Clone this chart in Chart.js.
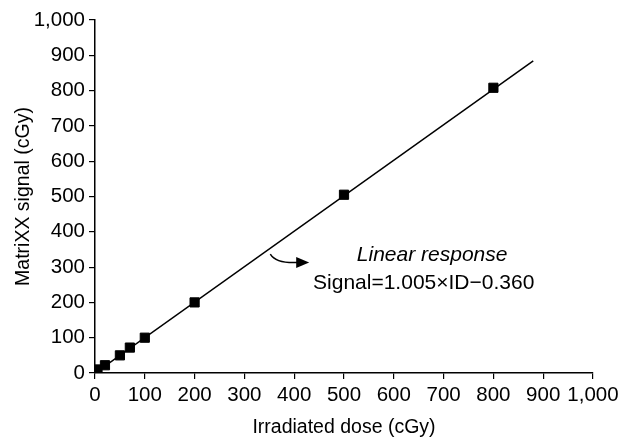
<!DOCTYPE html>
<html>
<head>
<meta charset="utf-8">
<script src="https://cdn.jsdelivr.net/npm/chart.js@4"></script>
<style>
  html, body { margin: 0; padding: 0; background: #fff; }
  #wrap { width: 632px; height: 439px; }
</style>
</head>
<body>
<div id="wrap"><canvas id="myChart"></canvas></div>
<script>
// measured points
const doseX = [5, 20, 50, 70, 100, 200, 500, 800];
const signalY = [10, 22, 50, 72, 100, 200, 505, 808];
// fitted line ends (Signal = 1.005 x ID - 0.360)
const fitX = [0, 880];
const fitY = [-0.36, 884];
const tickValues = [0, 100, 200, 300, 400, 500, 600, 700, 800, 900, 1000];

const font = 'Liberation Sans, Arial, sans-serif';

// text + curved arrow in data coordinates
const notePlugin = {
  id: 'note',
  afterDatasetsDraw(chart) {
    const c = chart.ctx, x = chart.scales.x, y = chart.scales.y;
    c.save();
    c.fillStyle = '#000';
    c.textAlign = 'center';
    c.textBaseline = 'middle';
    c.font = 'italic 21px ' + font;
    c.fillText('Linear response', x.getPixelForValue(677), y.getPixelForValue(334));
    c.font = '21px ' + font;
    c.fillText('Signal=1.005\u00d7ID\u22120.360', x.getPixelForValue(660), y.getPixelForValue(255));

    const sx = x.getPixelForValue(352), sy = y.getPixelForValue(337);
    const ex = x.getPixelForValue(406), ey = y.getPixelForValue(313);
    c.strokeStyle = '#000';
    c.lineWidth = 1.5;
    c.beginPath();
    c.moveTo(sx, sy);
    c.quadraticCurveTo(sx + 6, ey + 1, ex, ey);
    c.stroke();
    c.beginPath();
    c.moveTo(ex - 1, ey - 5.5);
    c.lineTo(ex + 12, ey);
    c.lineTo(ex - 1, ey + 5.5);
    c.closePath();
    c.fill();
    c.restore();
  }
};

const ctx = document.getElementById('myChart');

new Chart(ctx, {
  type: 'scatter',
  data: {
    datasets: [
      {
        label: 'fit',
        type: 'line',
        data: fitX.map((v, i) => ({ x: v, y: fitY[i] })),
        borderColor: '#000',
        borderWidth: 1.5,
        pointRadius: 0,
        fill: false,
        order: 2
      },
      {
        label: 'measured',
        data: doseX.map((v, i) => ({ x: v, y: signalY[i] })),
        pointStyle: 'rect',
        pointRadius: 6.5,
        backgroundColor: '#000',
        borderColor: '#000',
        order: 1
      }
    ]
  },
  options: {
    responsive: true,
    maintainAspectRatio: false,
    animation: false,
    layout: { padding: { top: 20, right: 39, left: 0, bottom: 0 } },
    plugins: {
      legend: { display: false },
      tooltip: { enabled: false }
    },
    scales: {
      x: {
        type: 'linear',
        min: 0,
        max: 1000,
        afterBuildTicks: s => { s.ticks = tickValues.map(v => ({ value: v })); },
        afterFit: s => { s.height = 66; },
        grid: { drawOnChartArea: false, drawTicks: true, tickLength: 6, color: '#000', lineWidth: 1.2 },
        border: { display: true, color: '#000', width: 1.5 },
        ticks: {
          color: '#000',
          font: { family: font, size: 20.5 },
          padding: 4,
          autoSkip: false,
          maxRotation: 0,
          callback: v => v.toLocaleString('en-US')
        },
        title: {
          display: true,
          text: 'Irradiated dose (cGy)',
          color: '#000',
          font: { family: font, size: 19.5 },
          padding: { top: 4, bottom: 0 }
        }
      },
      y: {
        type: 'linear',
        min: 0,
        max: 1000,
        afterBuildTicks: s => { s.ticks = tickValues.map(v => ({ value: v })); },
        afterFit: s => { s.width = 95; },
        grid: { drawOnChartArea: false, drawTicks: true, tickLength: 6, color: '#000', lineWidth: 1.2 },
        border: { display: true, color: '#000', width: 1.5 },
        ticks: {
          color: '#000',
          font: { family: font, size: 20.5 },
          padding: 4,
          autoSkip: false,
          callback: v => v.toLocaleString('en-US')
        },
        title: {
          display: true,
          text: 'MatriXX signal (cGy)',
          color: '#000',
          font: { family: font, size: 19.5 },
          padding: { top: 12, bottom: 2 }
        }
      }
    }
  },
  plugins: [notePlugin]
});
</script>
</body>
</html>
